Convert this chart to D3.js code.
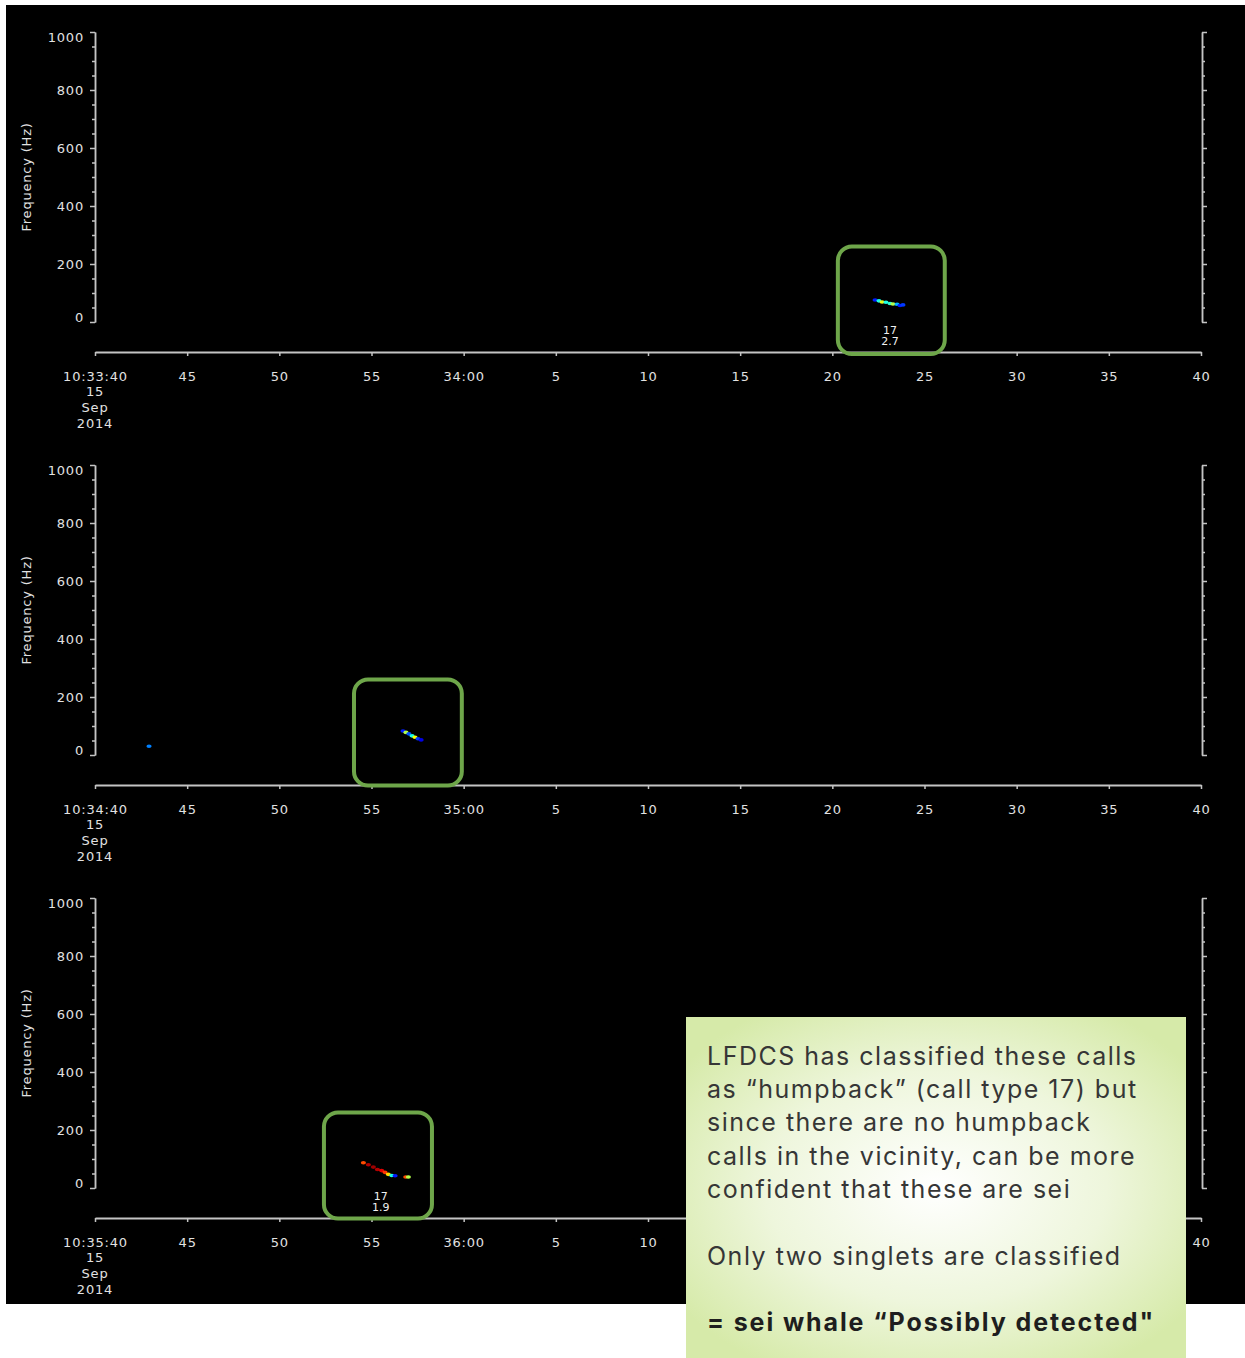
<!DOCTYPE html>
<html>
<head>
<meta charset="utf-8">
<script src="https://cdn.jsdelivr.net/npm/d3@7"></script>
<style>
  html, body { margin: 0; padding: 0; background: #ffffff; }
  svg { display: block; }
</style>
</head>
<body>
<svg id="chart" width="1245" height="1358"></svg>
<script>
// ---------- data ----------
const panelStartLabels = ["10:33:40", "10:34:40", "10:35:40"];
const minuteLabels = ["34:00", "35:00", "36:00"];
const secondLabels = ["45", "50", "55", null, "5", "10", "15", "20", "25", "30", "35", "40"];
const dateLines = ["15", "Sep", "2014"];
const freqMajorTicks = [0, 200, 400, 600, 800, 1000];
const freqMinorStep = 50;
const timeTickStep = 5;       // seconds
const timeSpan = 60;          // seconds per panel

// detections: t = seconds after panel start, f = Hz, v = normalised intensity (jet)
const detections1 = [
  {t: 42.32, f: 76, v: 0.15}, {t: 42.53, f: 73, v: 0.40}, {t: 42.70, f: 69, v: 0.60},
  {t: 42.91, f: 68, v: 0.40}, {t: 43.13, f: 64, v: 0.42}, {t: 43.29, f: 62, v: 0.55},
  {t: 43.51, f: 61, v: 0.30}, {t: 43.67, f: 57, v: 0.15}, {t: 43.83, f: 59, v: 0.18}
];
const detections2 = [
  {t: 2.93, f: 30, v: 0.25},
  {t: 16.71, f: 83, v: 0.15}, {t: 16.87, f: 78, v: 0.55}, {t: 17.03, f: 73, v: 0.20},
  {t: 17.20, f: 66, v: 0.40}, {t: 17.36, f: 61, v: 0.62}, {t: 17.52, f: 56, v: 0.18},
  {t: 17.69, f: 52, v: 0.10}
];
const detections3 = [
  {t: 14.56, f: 87, v: 0.80}, {t: 14.83, f: 80, v: 0.95}, {t: 15.10, f: 72, v: 0.97},
  {t: 15.32, f: 64, v: 0.95}, {t: 15.55, f: 60, v: 0.90}, {t: 15.73, f: 54, v: 0.82},
  {t: 15.91, f: 47, v: 0.66}, {t: 16.10, f: 43, v: 0.40}, {t: 16.28, f: 42, v: 0.15},
  {t: 16.86, f: 38, v: 0.80}, {t: 17.00, f: 38, v: 0.55}
];
const detectionSets = [detections1, detections2, detections3];

// highlight boxes (annotation rectangles) in data units: t0..t1, f0..f1
const highlightBoxes = [
  {t0: 40.3, t1: 46.1, f0: -110, f1: 260},
  {t0: 14.05, t1: 19.9, f0: -105, f1: 260},
  {t0: 12.42, t1: 18.28, f0: -105, f1: 260}
];
// classification labels: call type / score, shown under the detection
const classLabels = [
  {t: 43.13, type: "17", score: "2.7"},
  null,
  {t: 15.50, type: "17", score: "1.9"}
];

const noteLines = [
  "LFDCS has classified these calls",
  "as \u201chumpback\u201d (call type 17) but",
  "since there are no humpback",
  "calls in the vicinity, can be more",
  "confident that these are sei"
];
const noteLine2 = "Only two singlets are classified";
const noteConclusion = "= sei whale \u201cPossibly detected\"";

// ---------- layout ----------
const svg = d3.select("#chart");
const axisColor = "#c4c4c4";
const textColor = "#e2e2e2";
const panelStep = 433;
const plotLeft = 95, plotRight = 1201;
const axisFont = "DejaVu Sans, sans-serif";

function jet(v) {
  const c = x => Math.max(0, Math.min(1, x));
  const r = c(1.5 - Math.abs(4 * v - 3));
  const g = c(1.5 - Math.abs(4 * v - 2));
  const b = c(1.5 - Math.abs(4 * v - 1));
  return d3.rgb(r * 255, g * 255, b * 255).toString();
}

// black background
svg.append("rect").attr("x", 6).attr("y", 5).attr("width", 1239).attr("height", 1299).attr("fill", "#000");

const defs = svg.append("defs");
const blur = defs.append("filter").attr("id", "soft");
blur.append("feGaussianBlur").attr("stdDeviation", 0.45);

const x = d3.scaleLinear().domain([0, timeSpan]).range([plotLeft, plotRight]);

// note box geometry (used to skip labels it covers)
const noteBox = {x: 686, y: 1017, w: 500, h: 341};

panelStartLabels.forEach((startLabel, i) => {
  const off = i * panelStep;
  const g = svg.append("g").attr("transform", `translate(0,${off})`);
  const y = d3.scaleLinear().domain([0, 1000]).range([322, 32]);
  const xAxisY = 352;

  const minorTicks = d3.range(0, 1000 + 1, freqMinorStep).filter(v => !freqMajorTicks.includes(v));

  const leftMinor = g.append("g").attr("transform", `translate(${plotLeft},0)`)
    .call(d3.axisLeft(y).tickValues(minorTicks).tickSize(3).tickSizeOuter(0).tickFormat(""));
  const leftMajor = g.append("g").attr("transform", `translate(${plotLeft},0)`)
    .call(d3.axisLeft(y).tickValues(freqMajorTicks).tickSize(5).tickSizeOuter(0).tickPadding(6).tickFormat(d3.format("d")));
  const rightMinor = g.append("g").attr("transform", `translate(${plotRight + 1},0)`)
    .call(d3.axisRight(y).tickValues(minorTicks).tickSize(3).tickSizeOuter(0).tickFormat(""));
  const rightMajor = g.append("g").attr("transform", `translate(${plotRight + 1},0)`)
    .call(d3.axisRight(y).tickValues(freqMajorTicks).tickSize(5).tickSizeOuter(0).tickFormat(""));

  [leftMinor, leftMajor, rightMinor, rightMajor].forEach(a => {
    a.select(".domain").attr("stroke", axisColor).attr("stroke-width", 1.5);
    a.selectAll(".tick line").attr("stroke", axisColor).attr("stroke-width", 1.5);
  });
  leftMajor.selectAll(".tick text")
    .attr("fill", textColor).attr("font-family", axisFont).attr("font-size", 13)
    .attr("letter-spacing", 0.8)
    .attr("dy", d => d === 0 ? "-0.05em" : d === 1000 ? "0.72em" : "0.32em");

  g.append("text")
    .attr("transform", `translate(31,${(y(0) + y(1000)) / 2}) rotate(-90)`)
    .attr("text-anchor", "middle")
    .attr("fill", textColor).attr("font-family", axisFont).attr("font-size", 13)
    .attr("letter-spacing", 0.8)
    .text("Frequency (Hz)");

  const xLabels = [startLabel].concat(secondLabels.map(s => s === null ? minuteLabels[i] : s));
  const xAxis = g.append("g").attr("transform", `translate(0,${xAxisY})`)
    .call(d3.axisBottom(x).tickValues(d3.range(0, timeSpan + 1, timeTickStep))
      .tickSize(4).tickSizeOuter(0).tickPadding(16)
      .tickFormat((d, k) => xLabels[k]));
  xAxis.select(".domain").attr("stroke", axisColor).attr("stroke-width", 2);
  xAxis.selectAll(".tick line").attr("stroke", axisColor).attr("stroke-width", 1.5);
  xAxis.selectAll(".tick text")
    .attr("fill", textColor).attr("font-family", axisFont).attr("font-size", 13)
    .attr("letter-spacing", 0.8);
  // labels hidden behind the note box in the reference are not drawn
  xAxis.selectAll(".tick text").filter(d => {
    const px = x(d), py = xAxisY + off + 24;
    return px > noteBox.x - 10 && px < noteBox.x + noteBox.w - 10 && py > noteBox.y;
  }).remove();

  dateLines.forEach((s, k) => {
    g.append("text")
      .attr("x", x(0)).attr("y", xAxisY + 44 + k * 16)
      .attr("text-anchor", "middle")
      .attr("fill", textColor).attr("font-family", axisFont).attr("font-size", 13)
      .attr("letter-spacing", 0.8)
      .text(s);
  });

  g.append("g").attr("filter", "url(#soft)")
    .selectAll("ellipse").data(detectionSets[i]).join("ellipse")
    .attr("cx", d => x(d.t)).attr("cy", d => y(d.f))
    .attr("rx", 2.6).attr("ry", 1.8)
    .attr("fill", d => jet(d.v));

  const cl = classLabels[i];
  if (cl) {
    [cl.type, cl.score].forEach((s, k) => {
      g.append("text")
        .attr("x", x(cl.t)).attr("y", y(0) + 12 + k * 11)
        .attr("text-anchor", "middle")
        .attr("fill", "#f0f0f0").attr("font-family", axisFont).attr("font-size", 11)
        .text(s);
    });
  }

  const b = highlightBoxes[i];
  g.append("rect")
    .attr("x", x(b.t0)).attr("y", y(b.f1))
    .attr("width", x(b.t1) - x(b.t0)).attr("height", y(b.f0) - y(b.f1))
    .attr("rx", 14).attr("ry", 14)
    .attr("fill", "none").attr("stroke", "#6ea64a").attr("stroke-width", 4);
});

// ---------- note box ----------
const grad = defs.append("radialGradient").attr("id", "noteGrad")
  .attr("cx", "0.5").attr("cy", "0.5").attr("r", "0.62");
grad.append("stop").attr("offset", "0%").attr("stop-color", "#ffffff");
grad.append("stop").attr("offset", "55%").attr("stop-color", "#eef6dc");
grad.append("stop").attr("offset", "100%").attr("stop-color", "#d6eaa9");

const note = svg.append("g").attr("transform", `translate(${noteBox.x},${noteBox.y})`);
note.append("rect").attr("width", noteBox.w).attr("height", noteBox.h).attr("fill", "url(#noteGrad)");
const noteFont = "Inter, 'Open Sans', sans-serif";
noteLines.forEach((s, k) => {
  note.append("text").attr("x", 21).attr("y", 48 + k * 33.2)
    .attr("fill", "#363636").attr("font-family", noteFont).attr("font-size", 25)
    .attr("letter-spacing", 1.5)
    .text(s);
});
note.append("text").attr("x", 21).attr("y", 248)
  .attr("fill", "#363636").attr("font-family", noteFont).attr("font-size", 25)
  .attr("letter-spacing", 1.5)
  .text(noteLine2);
note.append("text").attr("x", 21).attr("y", 314)
  .attr("fill", "#1e1e1e").attr("font-family", noteFont).attr("font-size", 25).attr("font-weight", 700)
  .attr("letter-spacing", 1.9)
  .text(noteConclusion);
</script>
</body>
</html>
